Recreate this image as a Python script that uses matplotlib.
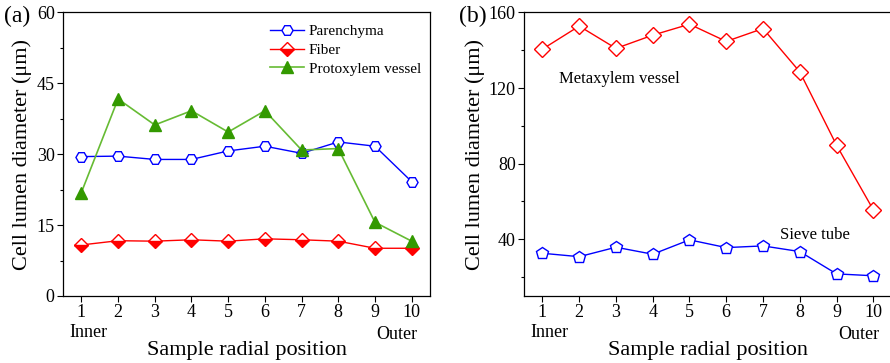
import matplotlib
matplotlib.use("Agg")
import matplotlib.pyplot as plt
from matplotlib.ticker import MultipleLocator

plt.rcParams['font.family'] = ['Liberation Serif', 'DejaVu Serif']
plt.rcParams['mathtext.fontset'] = 'stix'

positions = [1, 2, 3, 4, 5, 6, 7, 8, 9, 10]

# Panel (a)
parenchyma = [29.5, 29.6, 28.9, 28.9, 30.7, 31.7, 30.2, 32.6, 31.7, 24.2]
fiber = [10.8, 11.7, 11.6, 11.9, 11.6, 12.1, 11.9, 11.6, 10.1, 10.1]
protoxylem = [21.9, 41.7, 36.2, 39.2, 34.7, 39.2, 30.9, 31.2, 15.6, 11.6]

# Panel (b)
metaxylem = [140.6, 152.8, 141.0, 148.0, 153.8, 144.7, 151.5, 128.6, 89.8, 55.6]
sieve_tube = [32.6, 30.8, 35.8, 32.1, 39.7, 35.6, 36.5, 33.5, 21.7, 20.7]

fig = plt.figure(figsize=(8.9, 3.63), dpi=100)
axa = fig.add_axes([0.0708, 0.1846, 0.4124, 0.781])
axb = fig.add_axes([0.5888, 0.1846, 0.4131, 0.781])

TICK_FS = 13
LABEL_FS = 16

blue = '#0000ff'
red = '#ff0000'
green_line = '#66bb33'
green_mk = '#339900'

axa.plot(positions, parenchyma, color=blue, lw=1, marker='H', ms=8,
         mfc='white', mec=blue, mew=1, label='Parenchyma')
axa.plot(positions, fiber, color=red, lw=1, marker='D', ms=7.5,
         fillstyle='bottom', mfc=red, mfcalt='white', mec=red, mew=1, label='Fiber')
axa.plot(positions, protoxylem, color=green_line, lw=1.2, marker='^', ms=9,
         mfc=green_mk, mec=green_mk, label='Protoxylem vessel')

axa.set_xlim(0.5, 10.5)
axa.set_ylim(0, 60)
axa.yaxis.set_major_locator(MultipleLocator(15))
axa.yaxis.set_minor_locator(MultipleLocator(7.5))
axa.legend(loc='upper right', frameon=False, fontsize=11, handlelength=2.2,
           handletextpad=0.3, labelspacing=0.33, borderaxespad=0.2,
           bbox_to_anchor=(1.0, 0.99))

axb.plot(positions, metaxylem, color=red, lw=1, marker='D', ms=8,
         mfc='white', mec=red, mew=1)
axb.plot(positions, sieve_tube, color=blue, lw=1, marker='p', ms=9,
         mfc='white', mec=blue, mew=1)
axb.set_xlim(0.5, 10.5)
axb.set_ylim(10, 160)
axb.yaxis.set_major_locator(MultipleLocator(40))
axb.yaxis.set_minor_locator(MultipleLocator(20))
axb.text(1.45, 125, 'Metaxylem vessel', fontsize=12, ha='left', va='center')
axb.text(7.45, 42.5, 'Sieve tube', fontsize=12, ha='left', va='center')

for ax in (axa, axb):
    ax.set_xticks(positions)
    ax.tick_params(axis='both', which='major', direction='out', length=4,
                   width=0.8, labelsize=TICK_FS, top=False, right=False, pad=2)
    ax.tick_params(axis='y', which='minor', direction='out', length=2.5, width=0.8)
    ax.set_xlabel('Sample radial position', fontsize=LABEL_FS, labelpad=14)
    ax.set_ylabel('Cell lumen diameter (μm)', fontsize=LABEL_FS, labelpad=3)
    for s in ax.spines.values():
        s.set_linewidth(0.9)
    ax.text(0.07, -0.1, 'Inner', transform=ax.transAxes, ha='center', va='top',
            fontsize=TICK_FS)
    ax.text(0.91, -0.105, 'Outer', transform=ax.transAxes, ha='center', va='top',
            fontsize=TICK_FS)

fig.text(0.019, 0.955, '(a)', fontsize=17, ha='center', va='center')
fig.text(0.531, 0.955, '(b)', fontsize=17, ha='center', va='center')

fig.savefig('out.png', dpi=100)
